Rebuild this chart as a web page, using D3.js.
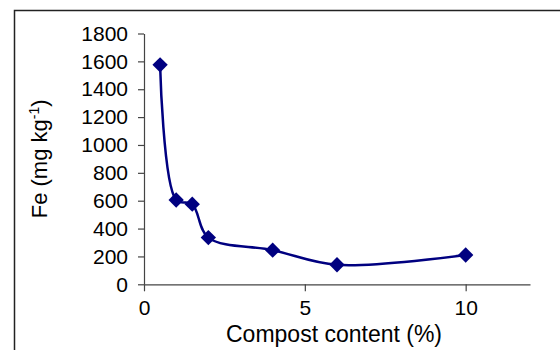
<!DOCTYPE html>
<html>
<head>
<meta charset="utf-8">
<script src="https://cdn.jsdelivr.net/npm/d3@7"></script>
<style>
  html, body { margin: 0; padding: 0; background: #fff; }
  svg { display: block; font-family: "Liberation Sans", Arial, sans-serif; }
</style>
</head>
<body>
<svg id="chart" width="560" height="350"></svg>
<script>
// compost content (%) vs Fe (mg/kg)
const compost = [0.5, 1, 1.5, 2, 4, 6, 10];
const fe = [1575, 605, 575, 335, 245, 140, 210];
const xTicks = [0, 5, 10];
const yTicks = [0, 200, 400, 600, 800, 1000, 1200, 1400, 1600, 1800];

const W = 560, H = 350;
const plot = { left: 144, right: 530, top: 33.5, bottom: 284.3 };
const navy = '#000080';
const axisColor = '#444';

const svg = d3.select('#chart');

// outer frame (right and bottom edges fall outside the picture)
svg.append('rect')
    .attr('x', 14.5).attr('y', 10.5)
    .attr('width', W).attr('height', H)
    .attr('fill', 'none')
    .attr('stroke', '#222')
    .attr('stroke-width', 1.5);

const x = d3.scaleLinear().domain([0, 12]).range([plot.left, plot.right]);
const y = d3.scaleLinear().domain([0, 1800]).range([plot.bottom, plot.top]);

// y axis
const yAxis = svg.append('g')
    .attr('transform', `translate(${plot.left},0)`)
    .call(d3.axisLeft(y).tickValues(yTicks).tickFormat(d3.format('d'))
        .tickSize(6).tickSizeOuter(0).tickPadding(10));

// x axis
const xAxis = svg.append('g')
    .attr('transform', `translate(0,${plot.bottom})`)
    .call(d3.axisBottom(x).tickValues(xTicks).tickFormat(d3.format('d'))
        .tickSize(7).tickSizeOuter(0).tickPadding(9));

[yAxis, xAxis].forEach(g => {
    g.select('.domain').attr('stroke', axisColor).attr('stroke-width', 1.2);
    g.selectAll('.tick line').attr('stroke', axisColor).attr('stroke-width', 1.2);
    g.selectAll('.tick text')
        .attr('fill', '#000')
        .style('font-family', '"Liberation Sans", Arial, sans-serif')
        .style('font-size', '21px');
});

// axis titles
svg.append('text')
    .attr('x', (plot.left + plot.right) / 2 - 3)
    .attr('y', 342)
    .attr('text-anchor', 'middle')
    .style('font-size', '23px')
    .text('Compost content (%)');

const yTitle = svg.append('text')
    .attr('transform', `translate(47,${(plot.top + plot.bottom) / 2}) rotate(-90)`)
    .attr('text-anchor', 'middle')
    .style('font-size', '22px');
yTitle.append('tspan').text('Fe (mg kg');
yTitle.append('tspan').attr('dy', -8).style('font-size', '14px').text('-1');
yTitle.append('tspan').attr('dy', 8).text(')');

// smoothed series line
const pts = compost.map((c, i) => [c, fe[i]]);
const line = d3.line()
    .x(d => x(d[0]))
    .y(d => y(d[1]))
    .curve(d3.curveCatmullRom.alpha(0.5));

svg.append('path')
    .datum(pts)
    .attr('d', line)
    .attr('fill', 'none')
    .attr('stroke', navy)
    .attr('stroke-width', 2.5);

// diamond markers
svg.append('g').selectAll('path.marker')
    .data(pts)
    .join('path')
    .attr('class', 'marker')
    .attr('d', d3.symbol().type(d3.symbolDiamond2).size(150))
    .attr('transform', d => `translate(${x(d[0])},${y(d[1])})`)
    .attr('fill', navy);
</script>
</body>
</html>
